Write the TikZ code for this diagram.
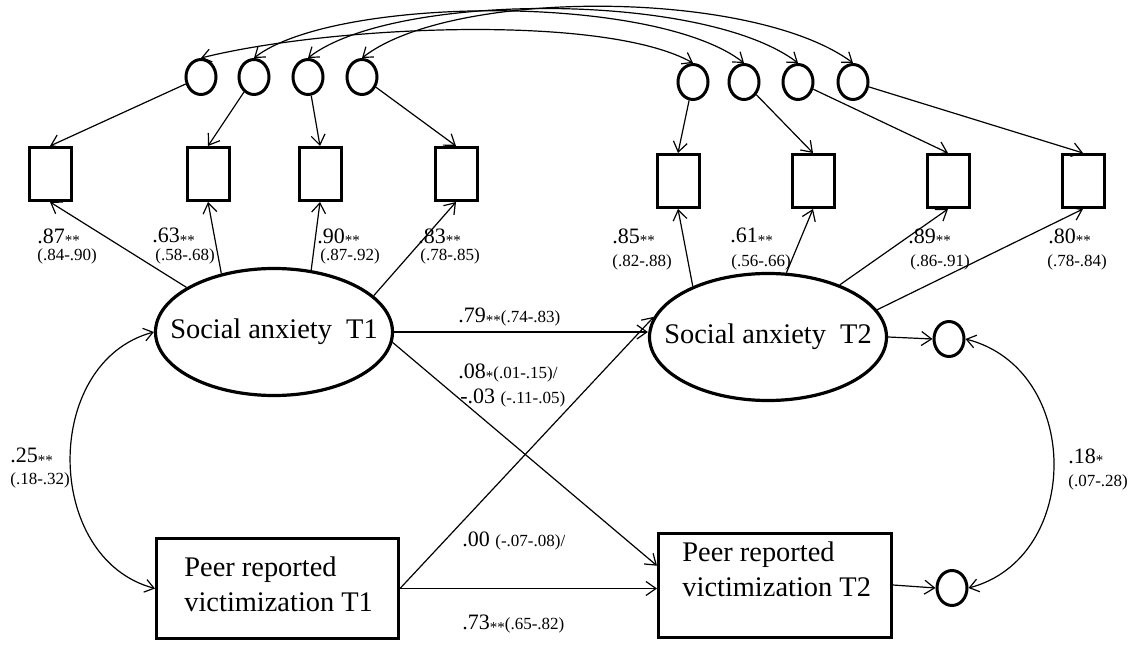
\documentclass[tikz,border=0pt]{standalone}
\usepackage{fontspec}
\setmainfont{Liberation Serif}
\usetikzlibrary{arrows.meta,shapes.geometric,calc}
\newcommand\stars[1]{\raisebox{-1.3pt}{\fontsize{7.5}{8}\selectfont #1}}
\newcommand\rngtext[1]{{\fontsize{8.5}{10}\selectfont #1}}
\begin{document}
\begin{tikzpicture}[x=0.5pt,y=-0.5pt,
  lat/.style={ellipse, draw, line width=1.6pt, minimum width=118.5pt, minimum height=63.5pt, inner sep=0pt},
  obs/.style={rectangle, draw, line width=1.5pt, minimum width=21pt, minimum height=26.5pt, inner sep=0pt},
  err/.style={ellipse, draw, line width=1.5pt, minimum width=15pt, minimum height=17.5pt, inner sep=0pt},
  bigbox/.style={rectangle, draw, line width=1.5pt, inner sep=0pt},
  reg/.style={line width=0.6pt, -{Straight Barb[length=5pt,width=7pt]}},
  twoway/.style={line width=0.6pt, {Straight Barb[length=4.5pt,width=6.5pt]}-{Straight Barb[length=4.5pt,width=6.5pt]}},
  coef/.style={anchor=west, inner sep=0pt, font=\fontsize{11}{12}\selectfont},
  rng/.style={anchor=west, inner sep=0pt, font=\fontsize{8.5}{10}\selectfont},
  ttl/.style={font=\fontsize{14.2}{17.5}\selectfont, inner sep=0pt}
]
\useasboundingbox (0,0) rectangle (1131,663);

% error terms
\node[err] (e1) at (201,77) {};
\node[err] (e2) at (254,77) {};
\node[err] (e3) at (308,77) {};
\node[err] (e4) at (362,77) {};
\node[err] (f1) at (693,82) {};
\node[err] (f2) at (744,82) {};
\node[err] (f3) at (798,82) {};
\node[err] (f4) at (853,82) {};

% indicators
\node[obs] (r1) at (50,174) {};
\node[obs] (r2) at (208,174) {};
\node[obs] (r3) at (320,174) {};
\node[obs] (r4) at (456,174) {};
\node[obs] (s1) at (678,181) {};
\node[obs] (s2) at (813,181) {};
\node[obs] (s3) at (948,181) {};
\node[obs] (s4) at (1083,181) {};

% latent
\node[lat, label={[ttl]center:Social anxiety\enspace T1}] (SA1) at (274,332) {};
\node[lat, label={[ttl]center:Social anxiety\enspace T2}] (SA2) at (768,337) {};

% peer boxes
\node[bigbox, minimum width=121pt, minimum height=50pt,
  label={[ttl, anchor=north west, align=left, xshift=14.5pt, yshift=-9.5pt]north west:Peer reported\\victimization T1}] (PV1) at (277.5,588.5) {};
\node[bigbox, minimum width=116.5pt, minimum height=52pt,
  label={[ttl, anchor=north west, align=left, xshift=12.5pt, yshift=-5pt]north west:Peer reported\\victimization T2}] (PV2) at (775,585) {};

% disturbances
\node[err] (D1) at (949,339) {};
\node[err] (D2) at (952,588) {};

% error -> indicator
\draw[reg] (e1) -- (r1.north);
\draw[reg] (e2) -- (r2.north);
\draw[reg] (e3) -- (r3.north);
\draw[reg] (e4) -- (r4.north);
\draw[reg] (f1) -- (s1.north);
\draw[reg] (f2) -- (s2.north);
\draw[reg] (f3) -- (s3.north);
\draw[reg] (f4) -- (s4.north);

% loadings
\draw[reg] (SA1.153) -- (r1.south);
\draw[reg] (SA1.132) -- (r2.south);
\draw[reg] (SA1.59) -- (r3.south);
\draw[reg] (SA1.20) -- (r4.south);
\draw[reg] (SA2.146) -- (s1.south);
\draw[reg] (SA2.74) -- (s2.south);
\draw[reg] (SA2.36) -- (s3.south);
\draw[reg] (SA2.14) -- (s4.south);

% structural paths
\draw[reg] (SA1.east) -- (SA1.east -| SA2.west);
\draw[reg] (SA1.-5) -- ($(PV2.north west)!0.32!(PV2.south west)$);
\draw[reg] (PV1.east) -- (SA2.170);
\draw[reg] (PV1.east) -- (PV1.east -| PV2.west);
\draw[reg] (SA2.east) -- (D1.west);
\draw[reg] (PV2.east) -- (D2.west);

% covariances
\draw[twoway] (SA1.west) .. controls ($(SA1.west)+(-112,30)$) and ($(PV1.west)+(-112,-30)$) .. (PV1.west);
\draw[twoway] (D1.east) .. controls ($(D1.east)+(117,30)$) and ($(D2.east)+(114,-30)$) .. (D2.east);
\draw[twoway] (e1.north) .. controls ($(e1.north)+(128,-32)$) and ($(f1.north)+(-90,-50)$) .. (f1.north);
\draw[twoway] (e2.north) .. controls ($(e2.north)+(80,-62)$) and ($(f2.north)+(-90,-70)$) .. (f2.north);
\draw[twoway] (e3.north) .. controls ($(e3.north)+(85,-66)$) and ($(f3.north)+(-95,-72)$) .. (f3.north);
\draw[twoway] (e4.north) .. controls ($(e4.north)+(90,-70)$) and ($(f4.north)+(-100,-74)$) .. (f4.north);

% loading labels T1
\node[coef] (a1) at (37,237) {.87\stars{**}};
\node[rng] (b1) at (37,256) {(.84-.90)};
\node[coef] (a2) at (152,237) {.63\stars{**}};
\node[rng] (b2) at (155,256) {(.58-.68)};
\node[coef] (a3) at (317,237) {.90\stars{**}};
\node[rng] (b3) at (320,256) {(.87-.92)};
\node[coef] (a4) at (418,237) {.83\stars{**}};
\node[rng] (b4) at (420,256) {(.78-.85)};
% loading labels T2
\node[coef] (c1) at (612,237) {.85\stars{**}};
\node[rng] (d1) at (612,262) {(.82-.88)};
\node[coef] (c2) at (730,237) {.61\stars{**}};
\node[rng] (d2) at (731,262) {(.56-.66)};
\node[coef] (c3) at (908,237) {.89\stars{**}};
\node[rng] (d3) at (910,262) {(.86-.91)};
\node[coef] (c4) at (1048,237) {.80\stars{**}};
\node[rng] (d4) at (1047,262) {(.78-.84)};

% path labels
\node[coef] (p1) at (458,317) {.79\stars{**}\rngtext{(.74-.83)}};
\node[coef] (p2) at (458,373) {.08\stars{*}\rngtext{(.01-.15)/}};
\node[coef] (p3) at (460,398) {-.03 \rngtext{(-.11-.05)}};
\node[coef] (p4) at (462,541) {.00 \rngtext{(-.07-.08)/}};
\node[coef] (p5) at (462,624) {.73\stars{**}\rngtext{(.65-.82)}};

% covariance labels
\node[coef] (k1) at (10,457) {.25\stars{**}};
\node[rng] (k2) at (10,480) {(.18-.32)};
\node[coef] (k3) at (1068,457) {.18\stars{*}};
\node[rng] (k4) at (1068,482) {(.07-.28)};
\end{tikzpicture}
\end{document}
